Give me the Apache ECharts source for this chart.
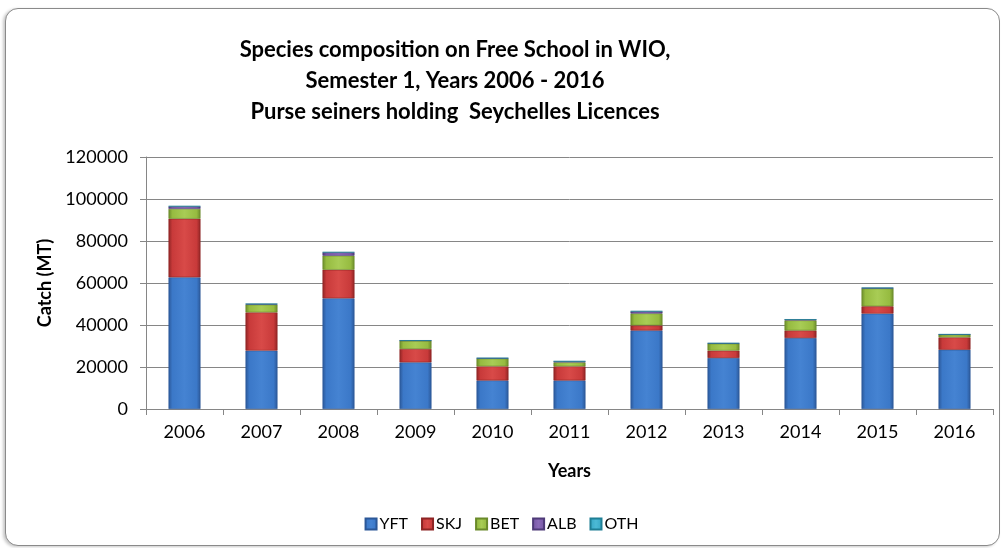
<!DOCTYPE html>
<html>
<head>
<meta charset="utf-8">
<title>Species composition on Free School in WIO</title>
<script src="https://cdn.jsdelivr.net/npm/echarts@6/dist/echarts.min.js"></script>
<style>
html, body { margin: 0; padding: 0; background: #ffffff; }
/* outer frame of the chart */
#frame {
	position: absolute; left: 5px; top: 8px; width: 993px; height: 536px;
	border: 1px solid #8a8a8a; border-radius: 13px;
	box-shadow: -2px 1px 3px #c8c8c8;
	background: #ffffff;
}
#main { position: absolute; left: 0; top: 0; width: 1003px; height: 548px; }
</style>
</head>
<body>
<div id="frame"></div>
<div id="main"></div>
<script type="text/javascript">
// data (MT)
var years = ['2006', '2007', '2008', '2009', '2010', '2011', '2012', '2013', '2014', '2015', '2016'];
var yft = [62700, 27800, 52700, 22200, 13600, 13600, 37400, 24300, 33800, 45400, 28200];
var skj = [27900, 18200, 13600, 6400, 6700, 6700, 2400, 3500, 3600, 3500, 5900];
var bet = [4700, 3700, 6700, 3900, 3700, 1900, 5700, 3300, 4800, 8500, 1300];
var alb = [1200, 300, 1600, 100, 200, 500, 1000, 200, 400, 200, 100];
var oth = [100, 50, 100, 50, 50, 50, 100, 50, 50, 100, 50];
var yTicks = [0, 20000, 40000, 60000, 80000, 100000, 120000];

var FONT = 'Lato, "Open Sans", sans-serif';

// bevel-like fill: dark edges, light middle
function bevel(dark, mid, light) {
	return new echarts.graphic.LinearGradient(0, 0, 1, 0, [
		{ offset: 0, color: dark },
		{ offset: 0.12, color: mid },
		{ offset: 0.5, color: light },
		{ offset: 0.88, color: mid },
		{ offset: 1, color: dark }
	]);
}

var colors = {
	YFT: ['#2b5797', '#3b78c8', '#4583d2'],
	SKJ: ['#8e2424', '#c83a3a', '#d84a48'],
	BET: ['#6a8a2a', '#96bb40', '#a8cc55'],
	ALB: ['#4e3a78', '#7a5aa8', '#8a6ab8'],
	OTH: ['#1f7f95', '#3aaac8', '#4cbad6']
};

function makeSeries(name, values) {
	var c = colors[name];
	return {
		name: name,
		type: 'bar',
		stack: 'total',
		barWidth: 32,
		data: values,
		itemStyle: {
			color: bevel(c[0], c[1], c[2]),
			borderColor: c[0],
			borderWidth: 0.6
		}
	};
}

var myChart = echarts.init(document.getElementById('main'));

var option = {
	animation: false,
	textStyle: { fontFamily: FONT },
	title: {
		text: 'Species composition on Free School in WIO,\nSemester 1, Years 2006 - 2016\nPurse seiners holding  Seychelles Licences',
		left: 450,
		top: 29,
		textAlign: 'center',
		textStyle: {
			fontFamily: FONT,
			fontSize: 22,
			fontWeight: 'bold',
			color: '#000000',
			lineHeight: 31
		}
	},
	legend: {
		data: ['YFT', 'SKJ', 'BET', 'ALB', 'OTH'],
		left: 'center',
		top: 511,
		itemWidth: 11,
		itemHeight: 11,
		itemGap: 13,
		icon: 'rect',
		textStyle: { fontFamily: FONT, fontSize: 16, color: '#000000', padding: [0, 0, 0, -2] }
	},
	grid: {
		left: 146,
		right: 10,
		top: 157,
		bottom: 139
	},
	xAxis: {
		type: 'category',
		data: years,
		name: 'Years',
		nameLocation: 'middle',
		nameGap: 53,
		nameTextStyle: { fontFamily: FONT, fontSize: 18, fontWeight: 'bold', color: '#000000' },
		axisLine: { lineStyle: { color: '#868686', width: 1 } },
		axisTick: { show: true, alignWithLabel: false, length: 6, lineStyle: { color: '#868686' } },
		axisLabel: { fontFamily: FONT, fontSize: 18, color: '#000000', margin: 14 }
	},
	yAxis: {
		type: 'value',
		min: 0,
		max: yTicks[yTicks.length - 1],
		interval: 20000,
		name: 'Catch (MT)',
		nameLocation: 'middle',
		nameGap: 92,
		nameRotate: 90,
		nameTextStyle: { fontFamily: FONT, fontSize: 18, fontWeight: 'bold', color: '#000000' },
		axisLine: { show: true, lineStyle: { color: '#868686', width: 1 } },
		axisTick: { show: true, length: 6, lineStyle: { color: '#868686' } },
		axisLabel: {
			fontFamily: FONT, fontSize: 18, color: '#000000', margin: 18,
			formatter: function (v) { return String(v); }
		},
		splitLine: { show: true, lineStyle: { color: '#868686', width: 1 } }
	},
	series: [
		makeSeries('YFT', yft),
		makeSeries('SKJ', skj),
		makeSeries('BET', bet),
		makeSeries('ALB', alb),
		makeSeries('OTH', oth)
	]
};

myChart.setOption(option);
</script>
</body>
</html>
